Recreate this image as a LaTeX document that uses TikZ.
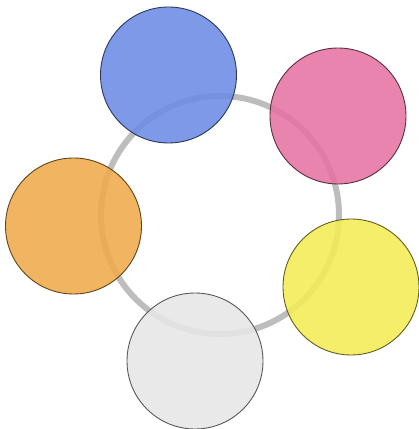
\documentclass[tikz,border=0pt]{standalone}
\begin{document}
\begin{tikzpicture}[x=1pt,y=1pt,
  ringstyle/.style={circle,draw=black!26,line width=6pt,minimum size=238pt,inner sep=0pt},
  ball/.style={circle,draw=black!70,line width=0.9pt,minimum size=136pt,inner sep=0pt,fill opacity=0.88}]
\useasboundingbox[fill=white] (0,0) rectangle (419,429);
\definecolor{cblue}{RGB}{108,140,228}
\definecolor{cpink}{RGB}{230,115,163}
\definecolor{cyellow}{RGB}{244,236,85}
\definecolor{cgray}{RGB}{230,230,230}
\definecolor{corange}{RGB}{240,170,75}
\node[ringstyle] (ring) at (220,214) {};
\node[ball,fill=cblue,draw=cblue!40!black] (blue) at (168.5,354) {};
\node[ball,fill=cpink,draw=cpink!40!black] (pink) at (338,313) {};
\node[ball,fill=cyellow,draw=cyellow!40!black] (yellow) at (351,142) {};
\node[ball,fill=cgray,draw=black!65] (gray) at (195,68) {};
\node[ball,fill=corange,draw=corange!40!black] (orange) at (73.5,203) {};
\end{tikzpicture}
\end{document}
